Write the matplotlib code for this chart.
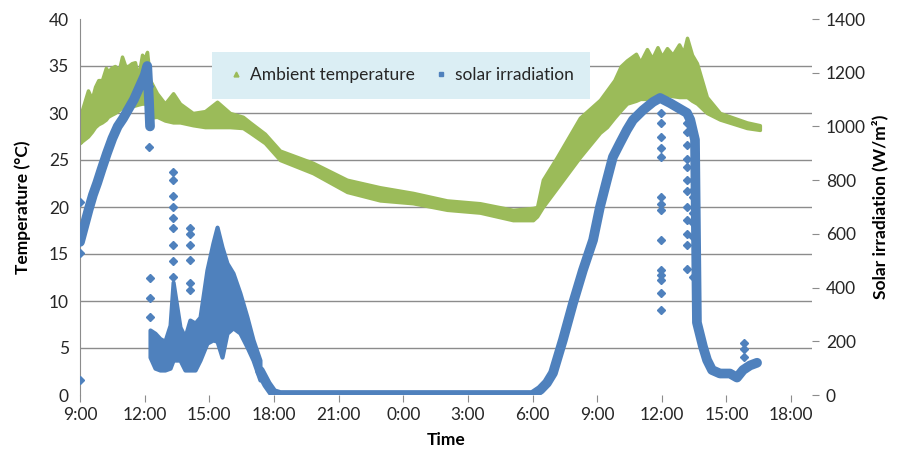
import matplotlib
matplotlib.use("Agg")
import matplotlib.pyplot as plt
from matplotlib.lines import Line2D

plt.rcParams["font.family"] = ["Lato", "DejaVu Sans"]

# hours counted from 0:00 of the first day
temp_t = [9.00, 9.09, 9.37, 9.55, 9.70, 9.85, 10.02, 10.20, 10.30, 10.45, 10.62, 10.80,
          10.95, 11.10, 11.23, 11.40, 11.55, 11.70, 11.88, 12.00, 12.11, 12.25, 12.57,
          12.94, 13.32, 13.64, 14.24, 14.80, 15.36, 15.96, 16.56, 16.89, 17.58, 18.28,
          19.81, 21.39, 22.92, 24.45, 26.03, 27.56, 29.09, 30.02, 30.21, 30.48, 31.13,
          32.20, 33.13, 33.45, 33.80, 34.10, 34.38, 34.80, 35.00, 35.31, 35.55, 35.80,
          36.00, 36.24, 36.50, 36.80, 37.00, 37.17, 37.40, 37.63, 38.09, 38.70, 39.95, 40.55]
temp_lo = [26.8, 27.0, 27.5, 28.0, 28.5, 28.8, 29.0, 29.3, 29.6, 29.8, 30.0, 30.3,
           30.6, 30.6, 30.6, 30.7, 30.8, 30.9, 31.0, 31.0, 31.0, 29.5, 29.6,
           29.2, 29.0, 29.0, 28.7, 28.5, 28.5, 28.5, 28.4, 27.9, 26.8, 25.0,
           23.6, 21.6, 20.7, 20.4, 19.7, 19.4, 18.6, 18.6, 19.0, 20.0, 22.0,
           25.3, 27.9, 28.5, 29.5, 30.3, 31.0, 31.3, 31.5, 31.5, 31.7, 31.8,
           31.9, 31.9, 31.8, 31.7, 31.7, 31.7, 31.3, 31.0, 30.0, 29.3, 28.4, 28.2]
temp_hi = [30.0, 30.3, 32.4, 31.5, 32.8, 33.5, 33.5, 34.8, 34.4, 34.8, 35.0, 34.5,
           36.0, 35.0, 35.0, 35.3, 35.4, 33.8, 36.2, 35.8, 36.5, 33.5, 32.1,
           31.0, 32.1, 31.0, 30.0, 30.2, 31.2, 30.0, 29.6, 29.0, 27.8, 26.0,
           24.7, 22.9, 22.1, 21.5, 20.7, 20.4, 19.7, 19.9, 20.0, 22.9, 25.3,
           29.5, 31.4, 32.4, 33.5, 35.0, 35.6, 36.3, 35.4, 36.8, 35.8, 37.0,
           36.0, 36.9, 36.2, 37.3, 36.4, 38.0, 36.2, 35.3, 31.7, 30.0, 29.0, 28.7]

# solar irradiation, main trace (W/m2)
sun_t = [9.00, 9.20, 9.40, 9.60, 9.80, 10.00, 10.25, 10.50, 10.75, 11.00, 11.25, 11.50,
         11.75, 12.00, 12.12, 12.20, 12.25,
         17.35, 17.68, 17.96, 18.28, 30.00, 30.37, 30.67, 30.95, 31.41, 31.88, 32.34,
         32.81, 33.13, 33.45, 33.73, 34.06, 34.38, 34.66, 35.13, 35.59, 35.92, 36.38,
         36.70, 37.17, 37.32, 37.54, 37.63, 37.91, 38.10, 38.33, 38.70, 39.16, 39.49,
         39.77, 40.09, 40.42]
sun_w = [570, 630, 690, 745, 790, 840, 900, 955, 1000, 1030, 1065, 1100,
         1145, 1190, 1225, 1100, 1000,
         90, 40, 8, 0, 0, 20, 45, 82, 205, 342, 465,
         577, 700, 800, 886, 938, 987, 1024, 1061, 1091, 1106, 1087,
         1072, 1050, 1025, 950, 270, 180, 130, 93, 80, 80, 65,
         93, 110, 120]

# afternoon of the first day: scattered band (low / high)
band_t = [12.25, 12.48, 12.71, 12.94, 13.18, 13.32, 13.64, 13.87, 14.10, 14.34, 14.57,
          14.89, 15.17, 15.36, 15.59, 15.82, 16.10, 16.42, 16.75, 17.03, 17.35]
band_lo = [141, 100, 93, 93, 100, 130, 130, 93, 93, 93, 130,
           193, 205, 200, 141, 230, 250, 231, 179, 130, 56]
band_hi = [242, 230, 210, 200, 260, 420, 253, 216, 279, 268, 290,
           465, 566, 625, 551, 491, 454, 380, 290, 205, 130]

# isolated points (cloud passages)
spike_t = [9.00, 9.00, 9.00, 12.22, 12.22, 12.22, 12.25, 12.25, 12.25,
           13.32, 13.32, 13.32, 13.32, 13.32, 13.32, 13.32, 13.32, 13.32,
           14.10, 14.10, 14.10, 14.10, 14.10, 14.10,
           35.97, 35.97, 35.97, 35.97, 35.97, 35.97, 35.97, 35.97, 35.97, 35.97,
           35.97, 35.97, 35.97, 35.97,
           37.17, 37.17, 37.17, 37.17, 37.17, 37.17, 37.17, 37.17, 37.17, 37.17,
           37.17, 37.17, 37.45, 37.45, 37.45, 37.45, 37.45, 37.45, 37.45,
           39.80, 39.80, 39.80]
spike_w = [718, 530, 56, 1150, 1050, 925, 435, 361, 290,
           830, 800, 740, 700, 660, 620, 560, 500, 440,
           622, 600, 560, 503, 417, 391,
           1050, 1013, 960, 920, 886, 737, 710, 689, 577, 465,
           445, 428, 380, 316,
           1013, 980, 930, 880, 850, 800, 760, 700, 650, 600,
           560, 470, 800, 763, 737, 678, 640, 589, 440,
           194, 170, 141]

hour_ticks = list(range(9, 43, 3))
hour_labels = ["%d:00" % (h % 24) for h in hour_ticks]

green = "#9bbb59"
blue = "#4f81bd"
grey = "#8c8c8c"
text_c = "#262626"

fig = plt.figure(figsize=(9.01, 4.57), dpi=100)
ax = fig.add_axes([80 / 901, 1 - 395 / 457, 732 / 901, 376 / 457])
ax2 = ax.twinx()

ax.fill_between(temp_t, temp_lo, temp_hi, color=green, lw=2.5, edgecolor=green)

ax2.plot(sun_t[:17], sun_w[:17], color=blue, lw=7, solid_capstyle="round")
ax2.plot(sun_t[17:], sun_w[17:], color=blue, lw=7, solid_capstyle="round")
ax2.fill_between(band_t, band_lo, band_hi, color=blue, lw=3, edgecolor=blue)
ax2.plot(spike_t, spike_w, ls="none", marker="D", ms=4.5, color=blue)

ax.set_xlim(9, 42.97)
ax.set_ylim(0, 40)
ax2.set_ylim(0, 1400)
ax.set_xticks(hour_ticks)
ax.set_xticklabels(hour_labels)
ax.set_yticks(range(0, 41, 5))
ax2.set_yticks(range(0, 1401, 200))

ax.grid(axis="y", color=grey, lw=1)
gl = ax.get_ygridlines()
gl[0].set_visible(False)
gl[-1].set_visible(False)
ax.set_axisbelow(True)

for a in (ax, ax2):
    for s in ("top", "right", "bottom"):
        a.spines[s].set_visible(False)
ax2.spines["left"].set_visible(False)
ax.spines["left"].set_color(grey)

ax.tick_params(axis="y", length=0, labelsize=12.5, labelcolor=text_c, pad=8)
ax.tick_params(axis="x", length=5, color=grey, labelsize=12.5, labelcolor=text_c, pad=4)
ax2.tick_params(axis="y", length=5, color=grey, labelsize=12.5, labelcolor=text_c, pad=5)

ax.set_xlabel("Time", fontsize=12.5, fontweight="bold", color="black", labelpad=6)
ax.set_ylabel("Temperature (°C)", fontsize=12.5, fontweight="bold", color="black", labelpad=13)
ax2.set_ylabel("Solar irradiation (W/m²)", fontsize=12.5, fontweight="bold", color="black", labelpad=4)

handles = [Line2D([], [], ls="none", marker="^", ms=3.5, color=green),
           Line2D([], [], ls="none", marker="s", ms=3.5, color=blue)]
leg = ax2.legend(handles, ["Ambient temperature", "solar irradiation"], ncol=2,
                 loc="upper left", bbox_to_anchor=(0.168, 0.798, 0.54, 0.138),
                 mode="expand", frameon=True, fancybox=False, fontsize=12.5,
                 handletextpad=0.3, columnspacing=1.2, borderpad=0.9, handlelength=1.0)
leg.get_frame().set_facecolor("#dbeef4")
leg.get_frame().set_edgecolor("none")
leg.get_frame().set_alpha(1)
for t in leg.get_texts():
    t.set_color(text_c)

fig.savefig("out.png", dpi=100)
